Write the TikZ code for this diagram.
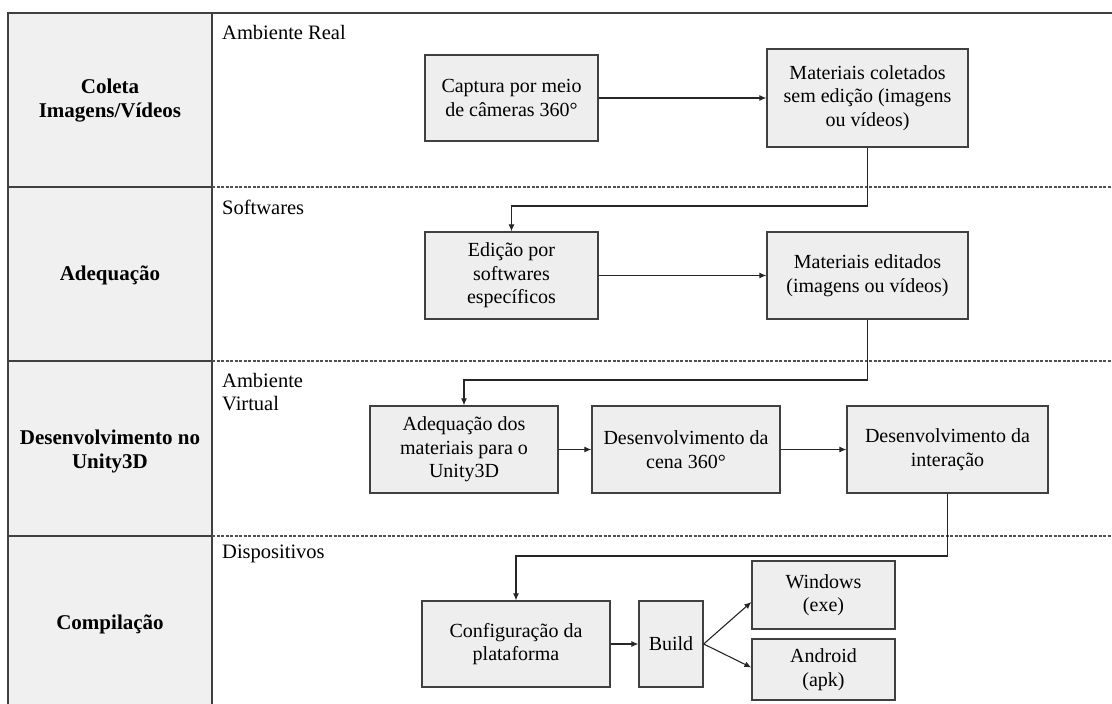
\documentclass[tikz,border=0pt]{standalone}
\usepackage{fontspec}
\setmainfont{Liberation Serif}
\usetikzlibrary{arrows.meta}
\definecolor{boxfill}{HTML}{EEEEEE}
\definecolor{colfill}{HTML}{F0F0F0}
\definecolor{edge}{HTML}{404040}
\definecolor{dashc}{HTML}{505050}
\begin{document}
\begin{tikzpicture}[x=1pt,y=-1pt,
  box/.style={draw=edge, line width=1.3pt, fill=boxfill, align=center, inner sep=2pt,
    font=\fontsize{20}{23.5}\selectfont},
  arr/.style={draw=black!85, line width=1.1pt, -{Latex[length=7pt,width=6pt]}},
  lane/.style={font=\fontsize{21}{24}\selectfont\bfseries, align=center},
  side/.style={font=\fontsize{20.5}{23}\selectfont, align=left, anchor=west, inner sep=0pt},
  sep/.style={draw=dashc, line width=1.1pt, dash pattern=on 3pt off 1.5pt}
]
\useasboundingbox (0,0) rectangle (1112,704);
% left column
\fill[colfill] (8,13) rectangle (212,704);
\draw[edge, line width=1.4pt] (8,704) -- (8,13) -- (1112,13);
\draw[edge, line width=1.4pt] (212,13) -- (212,704);
\foreach \yy in {187,361,536}{
  \draw[edge, line width=1.4pt] (8,\yy) -- (212,\yy);
  \draw[sep] (212,\yy) -- (1112,\yy);
}
% lane labels
\node[lane] (l1) at (110,101) {Coleta\\Imagens/Vídeos};
\node[lane] (l2) at (110,275) {Adequação};
\node[lane] (l3) at (110,451) {Desenvolvimento no\\Unity3D};
\node[lane] (l4) at (110,624) {Compilação};
% side labels
\node[side] (s1) at (222,32) {Ambiente Real};
\node[side] (s2) at (222,207) {Softwares};
\node[side] (s3) at (222,392.5) {Ambiente\\Virtual};
\node[side] (s4) at (222,554) {Dispositivos};
% boxes
\node[box, minimum width=173pt, minimum height=86pt] (cap) at (511.5,98) {Captura por meio\\de câmeras 360°};
\node[box, minimum width=201pt, minimum height=98pt] (matc) at (867.5,98) {Materiais coletados\\sem edição (imagens\\ou vídeos)};
\node[box, minimum width=173pt, minimum height=87pt] (edi) at (511.5,275.5) {Edição por\\softwares\\específicos};
\node[box, minimum width=201pt, minimum height=87pt] (mate) at (867.5,275.5) {Materiais editados\\(imagens ou vídeos)};
\node[box, minimum width=188pt, minimum height=87pt] (adq) at (464,449.5) {Adequação dos\\materiais para o\\Unity3D};
\node[box, minimum width=188pt, minimum height=87pt] (cena) at (686,449.5) {Desenvolvimento da\\cena 360°};
\node[box, minimum width=201pt, minimum height=87pt] (inter) at (947.5,449.5) {Desenvolvimento da\\interação};
\node[box, minimum width=188pt, minimum height=86pt] (conf) at (516,644) {Configuração da\\plataforma};
\node[box, minimum width=64pt, minimum height=86pt] (build) at (671,644) {Build};
\node[box, minimum width=143pt, minimum height=68pt] (win) at (823.5,595) {Windows\\(exe)};
\node[box, minimum width=143pt, minimum height=61pt] (andr) at (823.5,669.5) {Android\\(apk)};
% routing coordinates
\coordinate (k1) at (0,206);
\coordinate (k2) at (0,380);
\coordinate (k3) at (0,556);
% connectors
\draw[arr] (cap) -- (matc);
\draw[arr] (matc.south) -- (matc.south |- k1) -| (edi.north);
\draw[arr] (edi) -- (mate);
\draw[arr] (mate.south) -- (mate.south |- k2) -| (adq.north);
\draw[arr] (adq) -- (cena);
\draw[arr] (cena) -- (inter);
\draw[arr] (inter.south) -- (inter.south |- k3) -| (conf.north);
\draw[arr] (conf) -- (build);
\draw[arr] (build.east) -- ([yshift=-7pt]win.west);
\draw[arr] (build.east) -- ([yshift=2pt]andr.west);
\end{tikzpicture}
\end{document}
